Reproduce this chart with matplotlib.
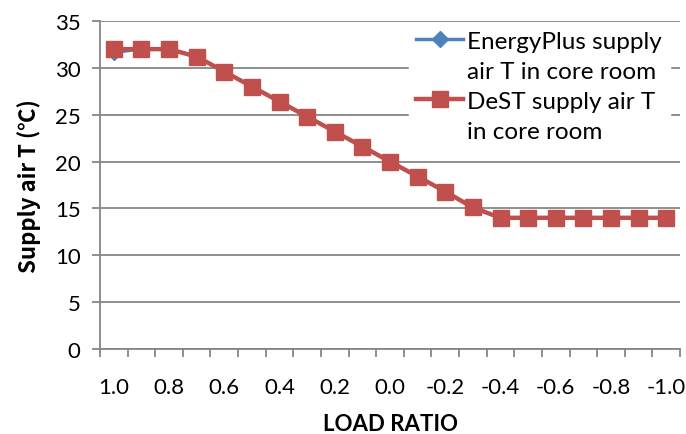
import matplotlib
matplotlib.use("Agg")
import matplotlib.pyplot as plt
from matplotlib.lines import Line2D

plt.rcParams['font.family'] = ['Lato', 'DejaVu Sans']

load_ratio = [1.0, 0.9, 0.8, 0.7, 0.6, 0.5, 0.4, 0.3, 0.2, 0.1, 0.0,
              -0.1, -0.2, -0.3, -0.4, -0.5, -0.6, -0.7, -0.8, -0.9, -1.0]
energyplus_t = [31.6, 32.0, 32.0, 31.2, 29.6, 28.0, 26.4, 24.8, 23.2, 21.6, 20.0,
                18.4, 16.8, 15.1, 14.0, 14.0, 14.0, 14.0, 14.0, 14.0, 14.0]
dest_t = [32.0, 32.0, 32.0, 31.2, 29.6, 28.0, 26.4, 24.8, 23.2, 21.6, 20.0,
          18.4, 16.8, 15.1, 14.0, 14.0, 14.0, 14.0, 14.0, 14.0, 14.0]
tick_labels = ["%.1f" % v for v in load_ratio]

blue = "#4F81BD"
red = "#C0504D"
grey = "#868686"

fig = plt.figure(figsize=(6.86, 4.35), dpi=100)
ax = fig.add_axes([0.1458, 0.1954, 0.8455, 0.754])

x = list(range(len(load_ratio)))
ax.plot(x, energyplus_t, color=blue, lw=2, marker="D", ms=7, zorder=3)
ax.plot(x, dest_t, color=red, lw=3.2, marker="s", ms=11, zorder=4)

ax.set_xlim(-0.5, len(x) - 0.5)
ax.set_ylim(0, 35)
ax.set_yticks(range(0, 36, 5))
ax.set_xticks(x[::2])
ax.set_xticklabels(tick_labels[::2])
ax.set_xticks([i - 0.5 for i in range(len(x) + 1)], minor=True)
ax.tick_params(axis="x", which="major", length=0, labelsize=16, pad=20)
ax.tick_params(axis="x", which="minor", length=6, width=1.3, color=grey, direction="out")
ax.tick_params(axis="y", length=6, width=1.3, color=grey, labelsize=16, pad=8)

ax.grid(axis="y", color=grey, lw=1.3)
ax.set_axisbelow(True)
for s in ["top", "right"]:
    ax.spines[s].set_visible(False)
for s in ["left", "bottom"]:
    ax.spines[s].set_color(grey)
    ax.spines[s].set_linewidth(1.3)
ax.spines["bottom"].set_zorder(2.5)

ax.set_xlabel("LOAD RATIO", fontsize=16, fontweight="bold", labelpad=12)
ax.set_ylabel("Supply air T (℃)", fontsize=16, fontweight="bold", labelpad=10,
              family=["Noto Sans CJK SC", "DejaVu Sans"])

empty = Line2D([], [], linestyle="none")
h1 = Line2D([], [], color=blue, lw=2.5, marker="D", ms=8)
h2 = Line2D([], [], color=red, lw=3.2, marker="s", ms=11)
leg = ax.legend([h1, empty, h2, empty],
                ["EnergyPlus supply", "air T in core room", "DeST supply air T", "in core room"],
                loc="upper left", bbox_to_anchor=(0.512, 1.03), frameon=True,
                fontsize=17.5, labelspacing=0.37, handlelength=1.9, handletextpad=0.2,
                borderpad=0.3, fancybox=False)
leg.get_frame().set_edgecolor("white")
leg.get_frame().set_facecolor("white")
leg.get_frame().set_alpha(1)

fig.savefig("out.png", dpi=100)
